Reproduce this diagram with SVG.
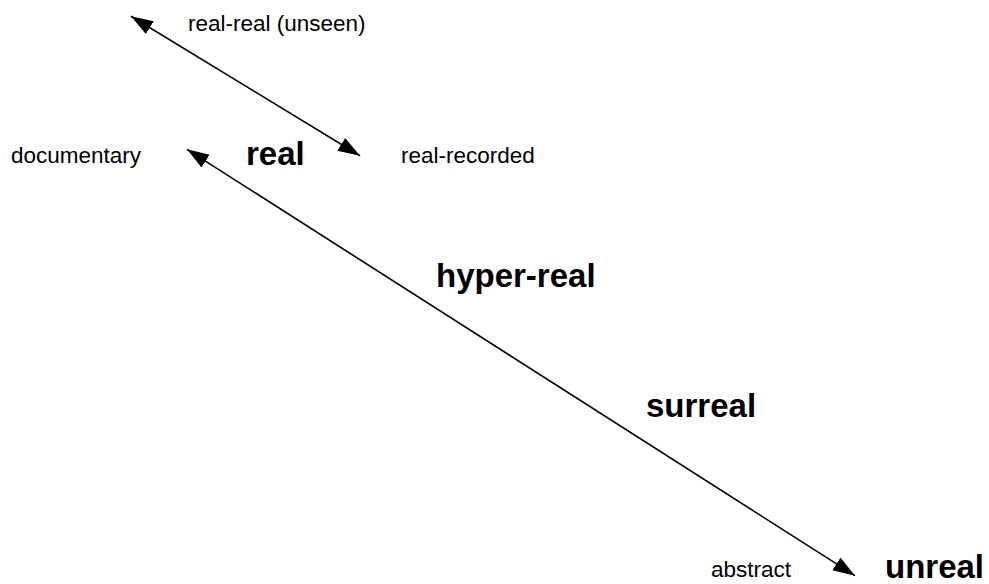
<svg xmlns="http://www.w3.org/2000/svg" width="989" height="584" viewBox="0 0 989 584">
<style>
.n{font-family:"Liberation Sans",Arial,sans-serif;font-size:22.5px;fill:#000}
.b{font-family:"Liberation Sans",Arial,sans-serif;font-size:33px;font-weight:bold;fill:#000}
.c{stroke:#000;stroke-width:1.6;fill:none}
</style>
<defs>
<marker id="ah" markerUnits="userSpaceOnUse" markerWidth="24" markerHeight="16" viewBox="0 0 24 16" refX="22" refY="7.5" orient="auto-start-reverse">
<path d="M0,0 L22,7.5 L0,15 z" fill="#000"/>
</marker>
</defs>
<rect width="989" height="584" fill="#fff"/>
<g id="connectors">
<line class="c" x1="131" y1="16.2" x2="360" y2="155.8" marker-start="url(#ah)" marker-end="url(#ah)"/>
<line class="c" x1="187" y1="149.3" x2="855" y2="575.7" marker-start="url(#ah)" marker-end="url(#ah)"/>
</g>
<g id="real-real"><text class="n" x="188" y="31">real-real (unseen)</text></g>
<g id="documentary"><text class="n" x="11" y="163">documentary</text></g>
<g id="real"><text class="b" x="246" y="165">real</text></g>
<g id="real-recorded"><text class="n" x="401" y="163">real-recorded</text></g>
<g id="hyper-real"><text class="b" x="436" y="287">hyper-real</text></g>
<g id="surreal"><text class="b" x="646" y="417">surreal</text></g>
<g id="abstract"><text class="n" x="711" y="577">abstract</text></g>
<g id="unreal"><text class="b" x="885" y="578">unreal</text></g>
</svg>
